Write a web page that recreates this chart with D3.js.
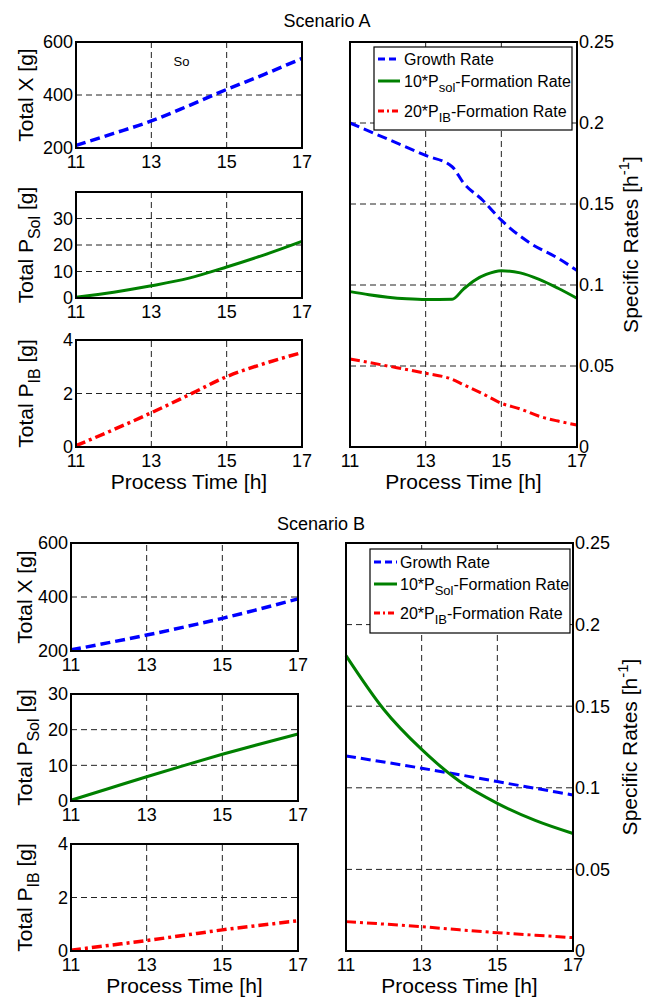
<!DOCTYPE html>
<html>
<head>
<meta charset="utf-8">
<title>Scenario A / Scenario B</title>
<style>
body { margin: 0; background: #fff; }
text { font-family: "Liberation Sans", Arial, Helvetica, sans-serif; fill: #000; }
.grid { stroke: #222; stroke-width: 1; stroke-dasharray: 6,4; }
.frame { fill: none; stroke: #000; stroke-width: 2; }
</style>
</head>
<body>
<svg width="653" height="1000"></svg>
<script src="https://d3js.org/d3.v7.min.js"></script>
<script>

// ---- data ----
var times = [11, 12, 13, 14, 15, 16, 17];
var xTicks = [11, 13, 15, 17];

// Scenario A, totals
var totalX_A   = [210, 255, 302, 360, 421, 478, 538];
var totalSol_A = [0.3, 2.2, 4.6, 7.5, 11.7, 16.3, 21.4];
var totalIB_A  = [0.05, 0.65, 1.28, 1.95, 2.63, 3.12, 3.53];

// Scenario A, specific rates
var growthT_A = [11, 12, 13, 13.7, 14, 14.5, 15, 15.75, 16.5, 17];
var growth_A  = [0.200, 0.190, 0.180, 0.173, 0.163, 0.1525, 0.140, 0.126, 0.1165, 0.109];
var solT_A    = [11, 11.5, 12, 12.5, 13, 13.7, 14, 14.3, 14.6, 15, 15.5, 16, 16.5, 17];
var solRate_A = [0.0959, 0.094, 0.0925, 0.0915, 0.0910, 0.0912, 0.0975, 0.103, 0.1065, 0.1088, 0.1075, 0.1035, 0.098, 0.0918];
var ibT_A     = [11, 12, 13, 13.7, 14, 14.5, 15, 15.5, 16, 16.5, 17];
var ibRate_A  = [0.0543, 0.050, 0.0455, 0.0418, 0.0385, 0.033, 0.027, 0.0235, 0.019, 0.016, 0.0136];

// Scenario B, totals
var totalX_B   = [204, 231, 259, 289, 321, 356, 393];
var totalSol_B = [0.2, 3.5, 6.8, 10.0, 13.1, 16.0, 18.8];
var totalIB_B  = [0.03, 0.21, 0.39, 0.59, 0.79, 0.96, 1.13];

// Scenario B, specific rates
var growth_B  = [0.1195, 0.1158, 0.112, 0.108, 0.1038, 0.0997, 0.0956];
var solRate_B = [0.181, 0.148, 0.1235, 0.104, 0.0905, 0.080, 0.072];
var ibRate_B  = [0.018, 0.0165, 0.0149, 0.013, 0.0112, 0.0097, 0.0082];

var rateTicks = [0, 0.05, 0.1, 0.15, 0.2, 0.25];
var rateTickLabels = ["0", "0.05", "0.1", "0.15", "0.2", "0.25"];

// ---- page layout ----
var layouts = [
  { title: "Scenario A", titleX: 327, titleY: 27,
    lx0: 76, lx1: 302, rows: [[42, 148], [192, 298], [340, 447]],
    rx0: 350, rx1: 577, ry0: 42, ry1: 447, ylabX: 33, rlabX: 638,
    leg: { x0: 374, x1: 572, y0: 47, y1: 130, rows: [59, 81, 111], l0: 378, l1: 400, tx: 404 },
    solSub: "sol" },
  { title: "Scenario B", titleX: 321, titleY: 530,
    lx0: 71, lx1: 298, rows: [[543, 651], [694, 801], [844, 951]],
    rx0: 346, rx1: 573, ry0: 543, ry1: 951, ylabX: 32, rlabX: 637,
    leg: { x0: 370, x1: 570, y0: 549, y1: 633, rows: [562, 584, 613], l0: 374, l1: 397, tx: 400 },
    solSub: "Sol" }
];

var svg = d3.select("svg");

var styles = {
  blue:  { stroke: "#0000ff", dash: "10,5",      w: 3.5 },
  green: { stroke: "#008000", dash: null,        w: 3 },
  red:   { stroke: "#ff0000", dash: "10,4,3,4",  w: 3.5 }
};

// text with sub/superscripts: parts = [[text, "sub"|"sup"|null], ...]
function richText(g, parts, size, subSize) {
  var t = g.append("text").attr("font-size", size);
  var shift = 0;
  parts.forEach(function(p) {
    var want = p[1] === "sub" ? 0.33 * size : p[1] === "sup" ? -0.45 * size : 0;
    t.append("tspan")
      .attr("dy", want - shift)
      .attr("font-size", p[1] ? subSize : size)
      .text(p[0]);
    shift = want;
  });
  return t;
}

function drawLine(g, x, y, xs, ys, st, w) {
  var pts = xs.map(function(d, i) { return [d, ys[i]]; });
  var line = d3.line()
      .x(function(d) { return x(d[0]); })
      .y(function(d) { return y(d[1]); })
      .curve(d3.curveMonotoneX);
  g.append("path")
    .attr("d", line(pts))
    .attr("fill", "none")
    .attr("stroke", st.stroke)
    .attr("stroke-width", w || st.w)
    .attr("stroke-dasharray", st.dash)
    .attr("stroke-linecap", "butt");
}

function frame(g, x, y, yTicks) {
  var xr = x.range(), yr = y.range(), yd = y.domain();
  g.selectAll(null).data(xTicks.slice(1, -1)).enter().append("line")
    .attr("class", "grid")
    .attr("x1", function(d) { return x(d); }).attr("x2", function(d) { return x(d); })
    .attr("y1", yr[0]).attr("y2", yr[1]);
  g.selectAll(null).data(yTicks.filter(function(d) { return d > yd[0] && d < yd[1]; }))
    .enter().append("line")
    .attr("class", "grid")
    .attr("x1", xr[0]).attr("x2", xr[1])
    .attr("y1", function(d) { return y(d); }).attr("y2", function(d) { return y(d); });
  g.selectAll(null).data(xTicks).enter().append("text")
    .attr("x", function(d) { return x(d); })
    .attr("y", yr[0] + 20)
    .attr("text-anchor", "middle")
    .attr("font-size", 18)
    .text(function(d) { return d; });
}

function box(g, x, y) {
  var xr = x.range(), yr = y.range();
  g.append("rect").attr("class", "frame")
    .attr("x", xr[0]).attr("y", yr[1])
    .attr("width", xr[1] - xr[0]).attr("height", yr[0] - yr[1]);
}

function drawScenario(L, totals, rates) {
  var g = svg.append("g");

  g.append("text")
    .attr("x", L.titleX).attr("y", L.titleY)
    .attr("text-anchor", "middle").attr("font-size", 18)
    .text(L.title);

  // left column: three small panels
  var leftSpecs = [
    { ys: totals.x,   dom: [200, 600], ticks: [200, 400, 600], st: styles.blue,
      label: [["Total X [g]", null]] },
    { ys: totals.sol, dom: totals.solDom, ticks: [0, 10, 20, 30], st: styles.green,
      label: [["Total P", null], ["Sol", "sub"], [" [g]", null]] },
    { ys: totals.ib,  dom: [0, 4], ticks: [0, 2, 4], st: styles.red,
      label: [["Total P", null], ["IB", "sub"], [" [g]", null]] }
  ];

  leftSpecs.forEach(function(s, i) {
    var r = L.rows[i];
    var x = d3.scaleLinear().domain([11, 17]).range([L.lx0, L.lx1]);
    var y = d3.scaleLinear().domain(s.dom).range([r[1], r[0]]);
    frame(g, x, y, s.ticks);
    drawLine(g, x, y, times, s.ys, s.st);
    box(g, x, y);

    g.selectAll(null).data(s.ticks).enter().append("text")
      .attr("x", L.lx0 - 3).attr("y", function(d) { return y(d); })
      .attr("dy", "0.35em")
      .attr("text-anchor", "end").attr("font-size", 18)
      .text(function(d) { return d; });

    var lab = g.append("g")
      .attr("transform", "translate(" + L.ylabX + "," + (r[0] + r[1]) / 2 + ") rotate(-90)");
    richText(lab, s.label, 21, 16).attr("text-anchor", "middle");
  });

  var lastRow = L.rows[2];
  g.append("text")
    .attr("x", (L.lx0 + L.lx1) / 2).attr("y", lastRow[1] + 42)
    .attr("text-anchor", "middle").attr("font-size", 21)
    .text("Process Time [h]");

  if (totals.note) {
    var xn = d3.scaleLinear().domain([11, 17]).range([L.lx0, L.lx1]);
    g.append("text")
      .attr("x", xn(13.8)).attr("y", L.rows[0][0] + 24)
      .attr("text-anchor", "middle").attr("font-size", 13)
      .text(totals.note);
  }

  // right column: specific rates
  var x = d3.scaleLinear().domain([11, 17]).range([L.rx0, L.rx1]);
  var y = d3.scaleLinear().domain([0, 0.25]).range([L.ry1, L.ry0]);
  frame(g, x, y, rateTicks);
  drawLine(g, x, y, rates.growthT, rates.growth, styles.blue, 3);
  drawLine(g, x, y, rates.solT, rates.sol, styles.green, 3);
  drawLine(g, x, y, rates.ibT, rates.ib, styles.red, 3);
  box(g, x, y);

  g.selectAll(null).data(rateTicks).enter().append("text")
    .attr("x", L.rx1 + 2).attr("y", function(d) { return y(d); })
    .attr("dy", "0.35em").attr("font-size", 18)
    .text(function(d, i) { return rateTickLabels[i]; });

  g.append("text")
    .attr("x", (L.rx0 + L.rx1) / 2).attr("y", L.ry1 + 42)
    .attr("text-anchor", "middle").attr("font-size", 21)
    .text("Process Time [h]");

  var rl = g.append("g")
    .attr("transform", "translate(" + L.rlabX + "," + (L.ry0 + L.ry1) / 2 + ") rotate(-90)");
  richText(rl, [["Specific Rates [h", null], ["-1", "sup"], ["]", null]], 21, 15)
    .attr("text-anchor", "middle");

  // legend
  var lg = L.leg;
  g.append("rect")
    .attr("x", lg.x0).attr("y", lg.y0)
    .attr("width", lg.x1 - lg.x0).attr("height", lg.y1 - lg.y0)
    .attr("fill", "#fff").attr("stroke", "#000").attr("stroke-width", 1.2);

  var entries = [
    { st: styles.blue,  dash: "7,4",       parts: [["Growth Rate", null]] },
    { st: styles.green, dash: null,        parts: [["10*P", null], [L.solSub, "sub"], ["-Formation Rate", null]] },
    { st: styles.red,   dash: "6,3,2,3",   parts: [["20*P", null], ["IB", "sub"], ["-Formation Rate", null]] }
  ];
  entries.forEach(function(e, i) {
    var yy = lg.rows[i];
    g.append("line")
      .attr("x1", lg.l0).attr("x2", lg.l1).attr("y1", yy).attr("y2", yy)
      .attr("stroke", e.st.stroke).attr("stroke-width", 3)
      .attr("stroke-dasharray", e.dash);
    var tg = g.append("g").attr("transform", "translate(" + lg.tx + "," + (yy + 6) + ")");
    richText(tg, e.parts, 16, 13);
  });
}

drawScenario(layouts[0],
  { x: totalX_A, sol: totalSol_A, ib: totalIB_A, solDom: [0, 40], note: "So" },
  { growthT: growthT_A, growth: growth_A, solT: solT_A, sol: solRate_A, ibT: ibT_A, ib: ibRate_A });

drawScenario(layouts[1],
  { x: totalX_B, sol: totalSol_B, ib: totalIB_B, solDom: [0, 30] },
  { growthT: times, growth: growth_B, solT: times, sol: solRate_B, ibT: times, ib: ibRate_B });

</script>
</body>
</html>
